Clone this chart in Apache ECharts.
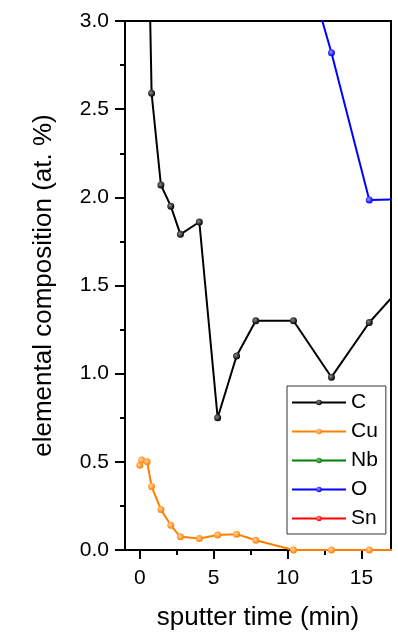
<!DOCTYPE html>
<html><head><meta charset="utf-8">
<script src="https://cdn.jsdelivr.net/npm/echarts@6/dist/echarts.min.js"></script>
<style>html,body{margin:0;padding:0;background:#fff}#c{width:398px;height:635px}</style>
</head><body><div id="c"></div>
<script>
// sputter time (min)
const time = [0, 0.13, 0.5, 0.8, 1.43, 2.1, 2.75, 4.03, 5.27, 6.55, 7.85, 10.4, 12.97, 15.53, 18.1];
// elemental composition (at. %)
const C  = [null, null, 3.9, 2.59, 2.07, 1.95, 1.79, 1.86, 0.75, 1.10, 1.30, 1.30, 0.98, 1.29, 1.53];
const Cu = [0.48, 0.51, 0.50, 0.36, 0.23, 0.14, 0.075, 0.065, 0.085, 0.09, 0.055, 0, 0, 0, 0];
const Nb = []; // off scale (above 3 at. %)
const O  = [null, null, null, null, null, null, null, null, null, null, null, 3.57, 2.82, 1.985, 1.99];
const Sn = []; // off scale (above 3 at. %)

const names  = ['C', 'Cu', 'Nb', 'O', 'Sn'];
const colors = ['#000000', '#FF8000', '#008000', '#0000FF', '#FF0000'];
const highlights = ['#8a8a8a', '#FFD2A0', '#80C080', '#9090FF', '#FF9090'];
const values = [C, Cu, Nb, O, Sn];

const xTicks = [0, 5, 10, 15];
const xMinorTicks = [2.5, 7.5, 12.5];
const yTickLabels = ['0.0', '0.5', '1.0', '1.5', '2.0', '2.5', '3.0'];

const FONT = '"Liberation Sans", Arial, sans-serif';
const chart = echarts.init(document.getElementById('c'), null, {renderer: 'canvas'});

const series = names.map((n, k) => ({
  name: n,
  type: 'line',
  xAxisIndex: 0,
  data: values[k].map((v, i) => [time[i], v]),
  color: colors[k],
  lineStyle: {width: 2, color: colors[k]},
  symbol: 'circle',
  symbolSize: 7,
  itemStyle: {color: {type: 'radial', x: 0.4, y: 0.4, r: 0.6,
    colorStops: [{offset: 0, color: highlights[k]}, {offset: 1, color: colors[k]}]}},
  clip: true,
  connectNulls: false
}));

chart.setOption({
  animation: false,
  backgroundColor: '#fff',
  textStyle: {fontFamily: FONT, color: '#000'},
  grid: {left: 125, right: 7, top: 21, bottom: 85, show: true, borderColor: '#000', borderWidth: 2,
    backgroundColor: 'transparent', containLabel: false, outerBoundsMode: 'none'},
  legend: {
    orient: 'vertical', left: 287, top: 386,
    itemWidth: 54, itemHeight: 7, itemGap: 8,
    padding: [6, 8, 5, 4],
    borderColor: '#333', borderWidth: 1, backgroundColor: '#fff',
    textStyle: {fontSize: 21, color: '#000', fontFamily: FONT},
    data: names
  },
  xAxis: [{
    type: 'value', min: -1, max: 17,
    name: 'sputter time (min)', nameLocation: 'middle', nameGap: 55,
    nameTextStyle: {fontSize: 26, color: '#000', fontFamily: FONT},
    axisLine: {show: true, onZero: false, lineStyle: {color: '#000', width: 2}},
    axisTick: {show: true, customValues: xTicks, length: 9, lineStyle: {color: '#000', width: 2}},
    axisLabel: {customValues: xTicks, fontSize: 21, color: '#000', margin: 18, fontFamily: FONT},
    splitLine: {show: false}
  }, {
    type: 'value', min: -1, max: 17, position: 'bottom',
    axisLine: {show: false, onZero: false},
    axisTick: {show: true, customValues: xMinorTicks, length: 5, lineStyle: {color: '#000', width: 2}},
    axisLabel: {show: false},
    splitLine: {show: false}
  }],
  yAxis: {
    type: 'value', min: 0, max: 3, interval: 0.5,
    name: 'elemental composition (at. %)', nameLocation: 'middle', nameGap: 68,
    nameTextStyle: {fontSize: 26, color: '#000', fontFamily: FONT},
    axisLine: {show: true, onZero: false, lineStyle: {color: '#000', width: 2}},
    axisTick: {show: true, length: 10, lineStyle: {color: '#000', width: 2}},
    minorTick: {show: true, splitNumber: 2, length: 5, lineStyle: {color: '#000', width: 2}},
    axisLabel: {fontSize: 21, color: '#000', margin: 16, fontFamily: FONT,
      formatter: v => yTickLabels[Math.round(v / 0.5)]},
    splitLine: {show: false}
  },
  series: series
});
</script></body></html>
